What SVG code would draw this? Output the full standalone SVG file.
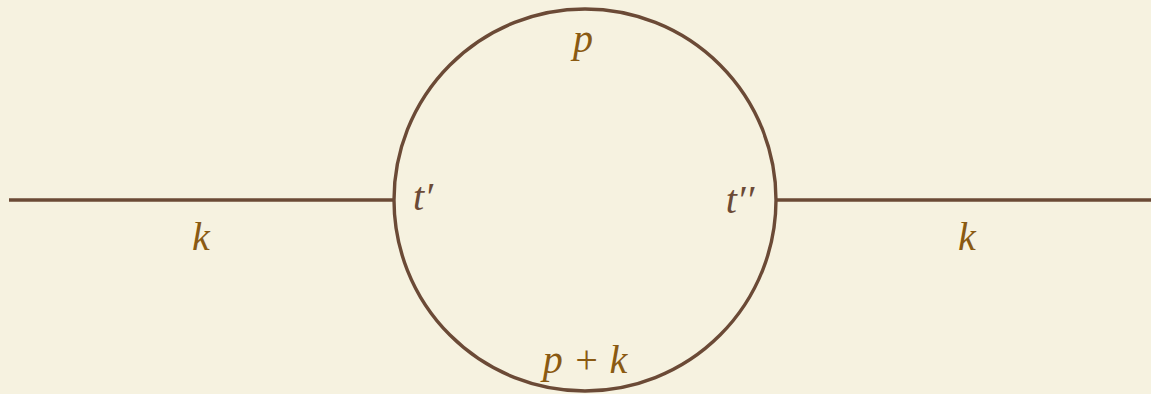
<svg xmlns="http://www.w3.org/2000/svg" width="1151" height="394" viewBox="0 0 1151 394">
<style>
.ln{stroke:#6b4a36;stroke-width:3.4;fill:none}
.lab{font-family:"Liberation Serif",serif;font-style:italic;font-size:40px;fill:#8a5a12;text-anchor:middle}
.vt{font-family:"Liberation Serif",serif;font-style:italic;font-size:40px;fill:#6b4a36;text-anchor:middle}
</style>
<rect width="1151" height="394" fill="#f6f2e0"/>
<g id="connectors">
<line class="ln" x1="9" y1="200" x2="394" y2="200"/>
<line class="ln" x1="776" y1="200" x2="1151" y2="200"/>
</g>
<g id="loop">
<circle class="ln" cx="585" cy="200" r="191"/>
</g>
<g id="label-p"><text class="lab" x="583" y="52">p</text></g>
<g id="label-k-left"><text class="lab" x="201" y="250">k</text></g>
<g id="label-k-right"><text class="lab" x="967" y="250">k</text></g>
<g id="vertex-t1"><text class="vt" x="423" y="210">t′</text></g>
<g id="vertex-t2"><text class="vt" x="740" y="213">t′′</text></g>
<g id="label-pk"><text class="lab" x="585" y="373">p + k</text></g>
</svg>
